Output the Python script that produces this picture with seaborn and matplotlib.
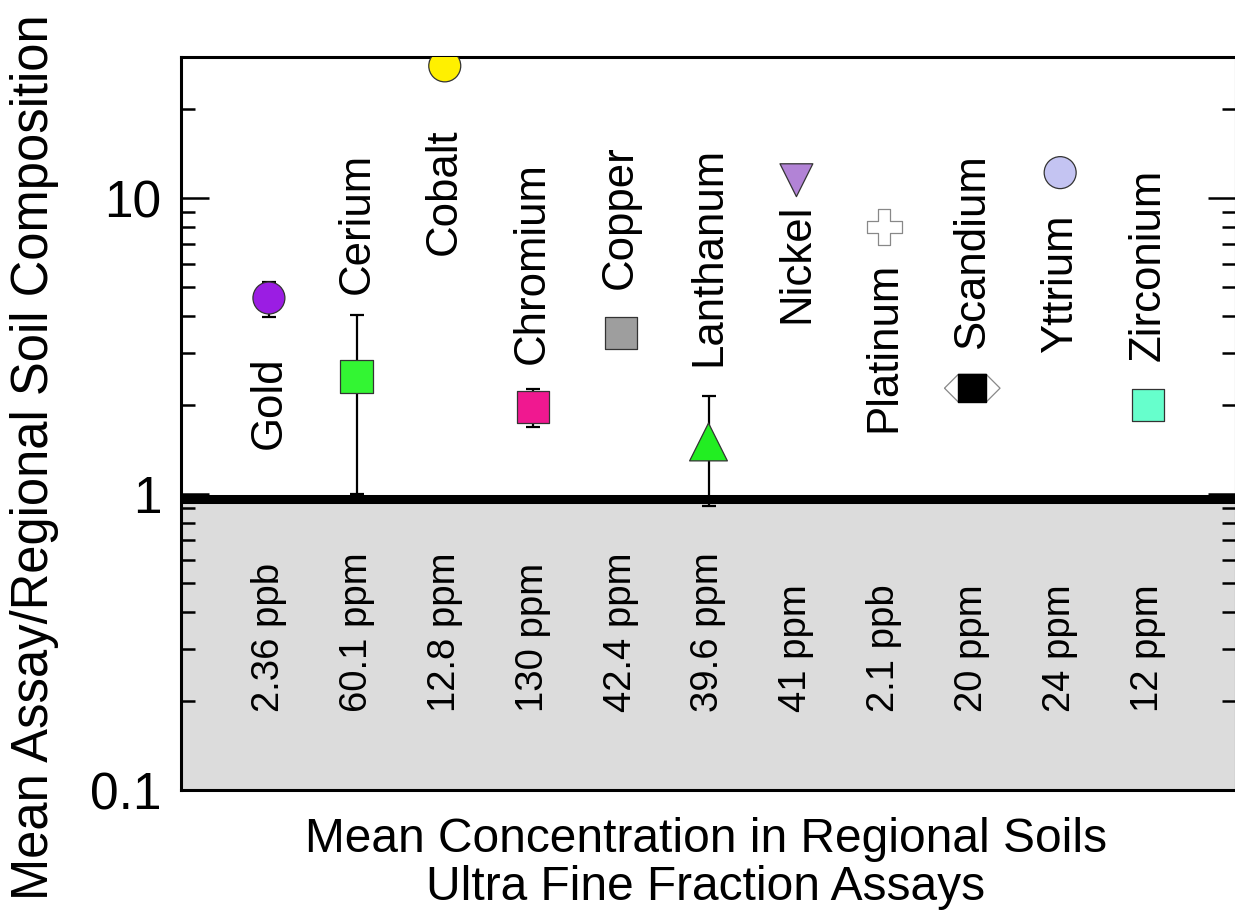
import numpy as np
import pandas as pd
import seaborn as sns
import matplotlib.pyplot as plt
from matplotlib.ticker import LogLocator, NullFormatter, FixedLocator, FixedFormatter

# data
elements = ['Gold', 'Cerium', 'Cobalt', 'Chromium', 'Copper', 'Lanthanum',
            'Nickel', 'Platinum', 'Scandium', 'Yttrium', 'Zirconium']
ratio = [4.6, 2.5, 28.0, 1.97, 3.5, 1.5, 11.5, 8.0, 2.28, 12.2, 2.0]
err_hi = [5.2, 4.03, np.nan, 2.26, np.nan, 2.14, np.nan, np.nan, np.nan, np.nan, np.nan]
err_lo = [3.96, 1.0, np.nan, 1.68, np.nan, 0.91, np.nan, np.nan, np.nan, np.nan, np.nan]
concentration = ['2.36 ppb', '60.1 ppm', '12.8 ppm', '130 ppm', '42.4 ppm', '39.6 ppm',
                 '41 ppm', '2.1 ppb', '20 ppm', '24 ppm', '12 ppm']

df = pd.DataFrame({'element': elements, 'pos': np.arange(1, len(elements) + 1),
                   'ratio': ratio, 'hi': err_hi, 'lo': err_lo})

# styling
hexagon = [(-1, 0), (-0.5, 0.5), (0.5, 0.5), (1, 0), (0.5, -0.5), (-0.5, -0.5), (-1, 0)]
colors = {'Gold': '#9b1de3', 'Cerium': '#33f533', 'Cobalt': '#fff000', 'Chromium': '#f01890',
          'Copper': '#9e9e9e', 'Lanthanum': '#22ee22', 'Nickel': '#b283d6', 'Platinum': '#ffffff',
          'Scandium': '#ffffff', 'Yttrium': '#c4c4f2', 'Zirconium': '#66ffcc'}
markers = {'Gold': 'o', 'Cerium': 's', 'Cobalt': 'o', 'Chromium': 's', 'Copper': 's',
           'Lanthanum': '^', 'Nickel': 'v', 'Platinum': 'P', 'Scandium': hexagon,
           'Yttrium': 'o', 'Zirconium': 's'}
sizes = {'Gold': 530, 'Cerium': 560, 'Cobalt': 530, 'Chromium': 530, 'Copper': 530,
         'Lanthanum': 740, 'Nickel': 560, 'Platinum': 650, 'Scandium': 1600,
         'Yttrium': 530, 'Zirconium': 530}
# label side (+ above / - below) and offset in points
label_off = [-42, 59, -45, 31, 32, 55, -17, -25, 28, -30, 32]

sns.set_style('white')
plt.rcParams['font.family'] = ['Liberation Sans', 'DejaVu Sans']
plt.rcParams.update({'text.color': 'black', 'axes.labelcolor': 'black',
                     'xtick.color': 'black', 'ytick.color': 'black'})

fig = plt.figure(figsize=(12.35, 9.13), dpi=100)
ax = fig.add_axes([181 / 1235, 1 - 790 / 913, 1055 / 1235, 733 / 913])

ax.fill_between([0, 12], 0.1, 0.96, color='#dcdcdc', zorder=0, lw=0)
ax.axhline(0.963, color='black', lw=6.5, zorder=2)

eb = df.dropna()
ax.errorbar(eb['pos'], eb['ratio'], yerr=[eb['ratio'] - eb['lo'], eb['hi'] - eb['ratio']],
            fmt='none', ecolor='black', elinewidth=1.6, capsize=5, capthick=1.6, zorder=2.5)

sns.scatterplot(data=df, x='pos', y='ratio', hue='element', style='element', size='element',
                palette=colors, markers=markers, sizes=sizes, edgecolor='#333333',
                linewidth=0.9, legend=False, ax=ax, zorder=3)
coll = ax.collections[-1]
edges = ['#888888' if e in ('Platinum', 'Scandium') else '#333333' for e in elements]
coll.set_edgecolors(edges)

sc = df[df['element'] == 'Scandium']
ax.scatter(sc['pos'], sc['ratio'], marker='s', s=400, color='black', zorder=4)

for x, y, name, off in zip(df['pos'], df['ratio'], elements, label_off):
    ax.annotate(name, (x, y), xytext=(0, off), textcoords='offset points',
                rotation=90, ha='center', va='bottom' if off > 0 else 'top',
                fontsize=31.5, zorder=5)

for x, txt in zip(df['pos'], concentration):
    ax.text(x, 0.184, txt, rotation=90, ha='center', va='bottom', fontsize=27.5, zorder=5)

ax.set_yscale('log')
ax.set_ylim(0.1, 30)
ax.set_xlim(0, 12)
ax.set_xticks([])
ax.set_xlabel('')
ax.set_ylabel('')
ax.yaxis.set_major_locator(FixedLocator([0.1, 1, 10]))
ax.yaxis.set_major_formatter(FixedFormatter(['0.1', '1', '10']))
ax.yaxis.set_minor_locator(LogLocator(base=10, subs=np.arange(2, 10)))
ax.yaxis.set_minor_formatter(NullFormatter())
ax.tick_params(axis='y', which='both', direction='in', left=True, right=True, width=1.8,
               labelsize=37, pad=14)
ax.tick_params(axis='y', which='major', length=20)
ax.tick_params(axis='y', which='minor', length=10)
for s in ax.spines.values():
    s.set_linewidth(2.2)
    s.set_color('black')

fig.text(35 / 1235, 1 - 457 / 913, 'Mean Assay/Regional Soil Composition', rotation=90,
         ha='center', va='center', fontsize=36.5)
fig.text(706 / 1235, 1 - 852 / 913, 'Mean Concentration in Regional Soils',
         ha='center', va='baseline', fontsize=34.5)
fig.text(706 / 1235, 1 - 900 / 913, 'Ultra Fine Fraction Assays',
         ha='center', va='baseline', fontsize=34.5)

fig.savefig('out.png', dpi=100)
